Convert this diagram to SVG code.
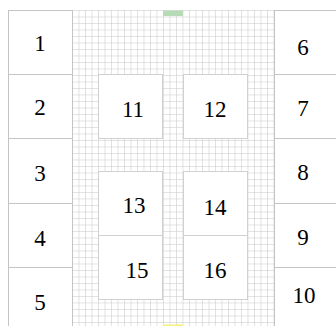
<svg xmlns="http://www.w3.org/2000/svg" width="336" height="326" viewBox="0 0 336 326">
<style>
.box{fill:#fff;stroke:#c4c4c4;stroke-width:1}
.ibox{fill:#fff;stroke:#d0d0d0;stroke-width:1}
.lbl{font-family:"Liberation Serif","DejaVu Serif",serif;font-size:23px;fill:#000;text-anchor:middle}
</style>
<defs>
<pattern id="grid" x="72" y="10" width="6.5" height="6.5" patternUnits="userSpaceOnUse">
<path d="M0 0H6.5M0 0V6.5" fill="none" stroke="#c6c6c6" stroke-width="1"/>
</pattern>
</defs>
<rect width="336" height="326" fill="#fff"/>
<rect x="72" y="10" width="202" height="320" fill="url(#grid)"/>
<rect x="163" y="10.5" width="20" height="5.5" fill="#b7dab7"/>
<rect x="163" y="324.5" width="20" height="3" fill="#f4f07a"/>
<g id="n1"><rect class="box" x="8.5" y="10.5" width="64" height="64"/><text class="lbl" x="40" y="51">1</text></g>
<g id="n2"><rect class="box" x="8.5" y="74.5" width="64" height="64"/><text class="lbl" x="40" y="115">2</text></g>
<g id="n3"><rect class="box" x="8.5" y="138.5" width="64" height="65"/><text class="lbl" x="40" y="181">3</text></g>
<g id="n4"><rect class="box" x="8.5" y="203.5" width="64" height="64"/><text class="lbl" x="40" y="246">4</text></g>
<g id="n5"><rect class="box" x="8.5" y="267.5" width="64" height="64"/><text class="lbl" x="40" y="310">5</text></g>
<g id="n6"><rect class="box" x="274.5" y="10.5" width="64" height="64"/><text class="lbl" x="303" y="55">6</text></g>
<g id="n7"><rect class="box" x="274.5" y="74.5" width="64" height="64"/><text class="lbl" x="303" y="116">7</text></g>
<g id="n8"><rect class="box" x="274.5" y="138.5" width="64" height="65"/><text class="lbl" x="303" y="180">8</text></g>
<g id="n9"><rect class="box" x="274.5" y="203.5" width="64" height="64"/><text class="lbl" x="303" y="245">9</text></g>
<g id="n10"><rect class="box" x="274.5" y="267.5" width="64" height="64"/><text class="lbl" x="304" y="303">10</text></g>
<g id="n11"><rect class="ibox" x="98.5" y="74.5" width="64" height="64"/><text class="lbl" x="133" y="117">11</text></g>
<g id="n12"><rect class="ibox" x="183.5" y="74.5" width="64" height="64"/><text class="lbl" x="215" y="117">12</text></g>
<g id="n13"><rect class="ibox" x="98.5" y="171.5" width="64" height="64"/><text class="lbl" x="134" y="213">13</text></g>
<g id="n14"><rect class="ibox" x="183.5" y="171.5" width="64" height="64"/><text class="lbl" x="215" y="215">14</text></g>
<g id="n15"><rect class="ibox" x="98.5" y="235.5" width="64" height="64"/><text class="lbl" x="137" y="278">15</text></g>
<g id="n16"><rect class="ibox" x="183.5" y="235.5" width="64" height="64"/><text class="lbl" x="215" y="278">16</text></g>
<g id="connectors"></g>
</svg>
